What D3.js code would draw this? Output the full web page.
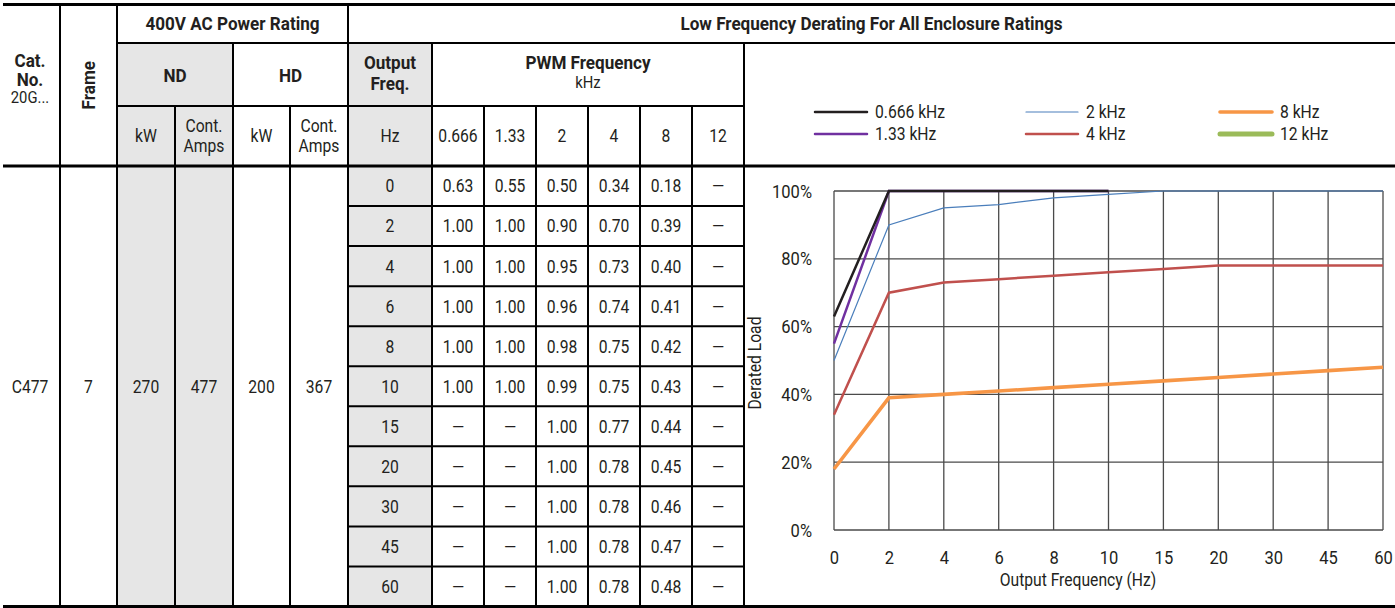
<!DOCTYPE html>
<html>
<head>
<meta charset="utf-8">
<script src="https://cdn.jsdelivr.net/npm/d3@7"></script>
<style>
  body { margin: 0; background: #fff; }
  svg text { font-family: Roboto, "Noto Sans", sans-serif; fill: #231f20; }
</style>
</head>
<body>
<svg id="chart" width="1395" height="608"></svg>
<script>
// ---- data ----
const catNo = "C477";
const frameNo = "7";
const ndRating = ["270", "477"];   // kW, Cont. Amps
const hdRating = ["200", "367"];
const outputFreq = [0, 2, 4, 6, 8, 10, 15, 20, 30, 45, 60];
const pwmKhz = ["0.666", "1.33", "2", "4", "8", "12"];

// table values, null = "—"
const load0666 = [0.63, 1.00, 1.00, 1.00, 1.00, 1.00, null, null, null, null, null];
const load133  = [0.55, 1.00, 1.00, 1.00, 1.00, 1.00, null, null, null, null, null];
const load2    = [0.50, 0.90, 0.95, 0.96, 0.98, 0.99, 1.00, 1.00, 1.00, 1.00, 1.00];
const load4    = [0.34, 0.70, 0.73, 0.74, 0.75, 0.75, 0.77, 0.78, 0.78, 0.78, 0.78];
const load8    = [0.18, 0.39, 0.40, 0.41, 0.42, 0.43, 0.44, 0.45, 0.46, 0.47, 0.48];
const load12   = [null, null, null, null, null, null, null, null, null, null, null];
const tableCols = [load0666, load133, load2, load4, load8, load12];

// 4 kHz curve as drawn on the plot (10 Hz point sits at 76%)
const plot4    = [0.34, 0.70, 0.73, 0.74, 0.75, 0.76, 0.77, 0.78, 0.78, 0.78, 0.78];

const yTicks = [0, 0.2, 0.4, 0.6, 0.8, 1.0];

const series = [
  { name: "12 kHz",    values: load12,   color: "#9bbb59", width: 5 },
  { name: "8 kHz",     values: load8,    color: "#f79646", width: 3.6 },
  { name: "4 kHz",     values: plot4,    color: "#c0504d", width: 2.5 },
  { name: "2 kHz",     values: load2,    color: "#4a7ebb", width: 1.2 },
  { name: "1.33 kHz",  values: load133,  color: "#7030a0", width: 2.5 },
  { name: "0.666 kHz", values: load0666, color: "#231f20", width: 2.5 }
];
const legendOrder = ["0.666 kHz", "1.33 kHz", "2 kHz", "4 kHz", "8 kHz", "12 kHz"];

// ---- layout ----
const W = 1395;
const SX = 0.87;   // squeeze Roboto towards the condensed face of the original
const colX = [0, 60, 117, 175, 233, 290, 348, 432, 484, 536, 588, 640, 692, 744];
const yTop = 4.5, yRow1 = 43, yRow2 = 106, yHead = 166, yBot = 606.5;
const GRAY = "#e6e6e6";
const svg = d3.select("#chart");

const rowY = d3.scaleBand().domain(d3.range(outputFreq.length)).range([yHead, yBot]);
const fmt = d3.format(".2f");

// gray columns
const grayG = svg.append("g");
grayG.append("rect").attr("x", colX[2]).attr("y", yRow1).attr("width", colX[4] - colX[2]).attr("height", yBot - yRow1).attr("fill", GRAY);
grayG.append("rect").attr("x", colX[6]).attr("y", yRow1).attr("width", colX[7] - colX[6]).attr("height", yBot - yRow1).attr("fill", GRAY);

// ---- grid lines of the table ----
const lines = svg.append("g").attr("stroke", "#000");
function hline(x1, x2, y, w) { lines.append("line").attr("x1", x1).attr("x2", x2).attr("y1", y).attr("y2", y).attr("stroke-width", w); }
function vline(x, y1, y2, w) { lines.append("line").attr("x1", x).attr("x2", x).attr("y1", y1).attr("y2", y2).attr("stroke-width", w); }

vline(colX[1], yTop, yBot, 2);
vline(colX[2], yTop, yBot, 2);
vline(colX[3], yRow2, yBot, 2);
vline(colX[4], yRow1, yBot, 2);
vline(colX[5], yRow2, yBot, 2);
vline(colX[6], yTop, yBot, 2);
vline(colX[7], yRow1, yBot, 2);
for (let i = 8; i <= 12; i++) vline(colX[i], yRow2, yBot, 2);
vline(colX[13], yRow1, yBot, 2);

hline(colX[2], W, yRow1, 2);
hline(colX[2], colX[13] + 1, yRow2, 2);
rowY.domain().slice(1).forEach(i => hline(colX[6], colX[13] + 1, rowY(i), 2));
hline(3, W, yTop, 3);
hline(3, W, yHead, 3);
hline(3, W, yBot, 3);

// ---- text helper ----
const txt = svg.append("g");
function label(x, y, s, size, bold, anchor = "middle", rot = 0) {
  const sx = bold ? 0.9 : SX;
  return txt.append("text")
    .attr("transform", `translate(${x},${y}) rotate(${rot}) scale(${sx},1)`)
    .attr("text-anchor", anchor).attr("dominant-baseline", "central")
    .attr("font-size", size).attr("font-weight", bold ? "bold" : "normal").text(s);
}
const mid = (a, b) => (colX[a] + colX[b]) / 2;

// ---- header text ----
label(mid(0, 1), 60, "Cat.", 19, true);
label(mid(0, 1), 79, "No.", 19, true);
label(mid(0, 1), 97, "20G...", 17, false);
label(mid(1, 2), (yTop + yHead) / 2, "Frame", 19, true, "middle", -90);
label(mid(2, 6), 23, "400V AC Power Rating", 19, true);
label((colX[6] + W) / 2, 23, "Low Frequency Derating For All Enclosure Ratings", 19, true);
label(mid(2, 4), 75, "ND", 19, true);
label(mid(4, 6), 75, "HD", 19, true);
label(mid(6, 7), 62, "Output", 19, true);
label(mid(6, 7), 83, "Freq.", 19, true);
label(mid(7, 13), 62, "PWM Frequency", 19, true);
label(mid(7, 13), 82, "kHz", 17, false);

["kW", "Cont.|Amps", "kW", "Cont.|Amps"].forEach((s, i) => {
  const parts = s.split("|");
  if (parts.length === 1) label(mid(i + 2, i + 3), 136, s, 18, false);
  else parts.forEach((p, j) => label(mid(i + 2, i + 3), 126 + j * 20, p, 18, false));
});
label(mid(6, 7), 136, "Hz", 18, false);
pwmKhz.forEach((k, i) => label(mid(i + 7, i + 8), 136, k, 18, false));

// ---- body text ----
const bodyMid = (yHead + yBot) / 2;
label(mid(0, 1), bodyMid, catNo, 18, false);
label(mid(1, 2), bodyMid, frameNo, 18, false);
ndRating.concat(hdRating).forEach((v, i) => label(mid(i + 2, i + 3), bodyMid, v, 18, false));

outputFreq.forEach((f, r) => {
  const cy = rowY(r) + rowY.bandwidth() / 2;
  label(mid(6, 7), cy, f, 18, false);
  tableCols.forEach((col, c) => {
    label(mid(c + 7, c + 8), cy, col[r] == null ? "—" : fmt(col[r]), 18, false);
  });
});

// ---- plot ----
const x = d3.scalePoint().domain(outputFreq).range([834, 1383]);
const y = d3.scaleLinear().domain([0, 1]).range([530, 191]);

const plot = svg.append("g");
plot.append("g").selectAll("line").data(outputFreq).join("line")
  .attr("x1", d => x(d)).attr("x2", d => x(d)).attr("y1", y(0)).attr("y2", y(1))
  .attr("stroke", "#4a4a4a").attr("stroke-width", 1.3);
plot.append("g").selectAll("line").data(yTicks).join("line")
  .attr("x1", x(0)).attr("x2", x(60)).attr("y1", d => y(d)).attr("y2", d => y(d))
  .attr("stroke", "#4a4a4a").attr("stroke-width", 1.3);

const yAxis = plot.append("g").attr("transform", `translate(${x(0)},0)`)
  .call(d3.axisLeft(y).tickValues(yTicks).tickFormat(d3.format(".0%")).tickSize(0).tickPadding(22 / SX));
const xAxis = plot.append("g").attr("transform", `translate(0,${y(0)})`)
  .call(d3.axisBottom(x).tickSize(0).tickPadding(21));
[yAxis, xAxis].forEach(a => {
  a.select(".domain").remove();
  a.selectAll("text").attr("font-size", 19).attr("fill", "#231f20")
    .attr("transform", `scale(${SX},1)`)
    .style("font-family", "Roboto, sans-serif");
});

const line = d3.line()
  .defined(d => d != null)
  .x((d, i) => x(outputFreq[i]))
  .y(d => y(d));
plot.append("g").selectAll("path").data(series).join("path")
  .attr("d", s => line(s.values))
  .attr("fill", "none")
  .attr("stroke", s => s.color)
  .attr("stroke-width", s => s.width)
  .attr("stroke-linejoin", "miter");

label(1078, 580, "Output Frequency (Hz)", 18, false);
label(755, 363, "Derated Load", 18, false, "middle", -90);

// ---- legend ----
const legendCols = [815, 1026, 1220];
const legendRows = [112, 134];
const legend = svg.append("g");
legendOrder.forEach((name, i) => {
  const s = series.find(d => d.name === name);
  const lx = legendCols[Math.floor(i / 2)], ly = legendRows[i % 2];
  legend.append("line").attr("x1", lx).attr("x2", lx + 52).attr("y1", ly).attr("y2", ly)
    .attr("stroke", s.color).attr("stroke-width", s.width).attr("stroke-linecap", "round");
  label(lx + 60, ly, name, 18, false, "start");
});
</script>
</body>
</html>
